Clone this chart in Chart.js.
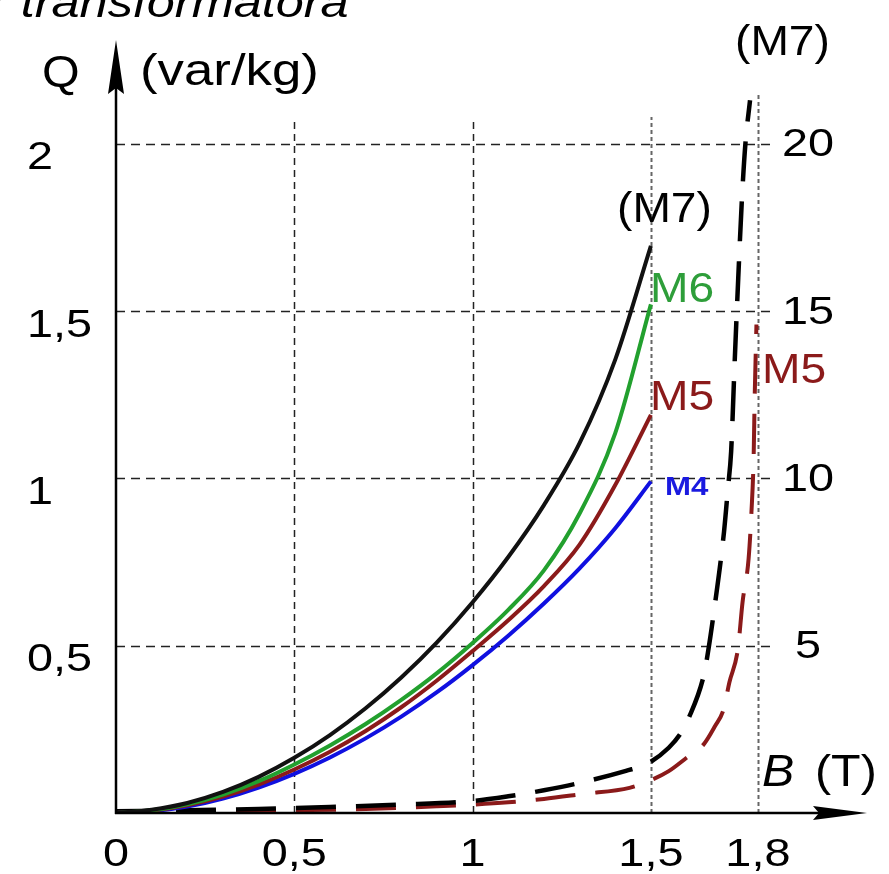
<!DOCTYPE html>
<html>
<head>
<meta charset="utf-8">
<script src="https://cdn.jsdelivr.net/npm/chart.js@4.4.1/dist/chart.umd.min.js"></script>
<style>
  html, body { margin: 0; padding: 0; background: #fff; }
  canvas { display: block; }
</style>
</head>
<body>
<canvas id="chart" width="889" height="874"></canvas>
<script>
// Q(B) curves for transformer sheet grades
const bSolid = [0, 0.1, 0.2, 0.3, 0.4, 0.5, 0.6, 0.7, 0.8, 0.9, 1.0, 1.1, 1.2, 1.3, 1.4, 1.5];
const qM7 = [0, 0.01, 0.03, 0.063, 0.108, 0.165, 0.233, 0.313, 0.405, 0.51, 0.63, 0.765, 0.92, 1.105, 1.355, 1.695];
const qM6 = [0, 0.008, 0.026, 0.055, 0.095, 0.145, 0.202, 0.266, 0.338, 0.418, 0.508, 0.607, 0.725, 0.895, 1.135, 1.52];
const qM5 = [0, 0.007, 0.023, 0.049, 0.085, 0.13, 0.183, 0.245, 0.316, 0.396, 0.484, 0.576, 0.678, 0.802, 0.98, 1.19];
const qM4 = [0, 0.005, 0.019, 0.043, 0.076, 0.117, 0.166, 0.223, 0.288, 0.361, 0.442, 0.53, 0.626, 0.731, 0.851, 0.991];

// dashed curves, right-hand scale (x10)
const bDashM7 = [0, 0.2, 0.4, 0.6, 0.8, 1.0, 1.1, 1.2, 1.3, 1.43, 1.49, 1.55, 1.583, 1.606, 1.648, 1.66, 1.676, 1.705, 1.716, 1.725, 1.735, 1.745, 1.755, 1.765, 1.778];
const qDashM7 = [0.05, 0.08, 0.12, 0.18, 0.25, 0.36, 0.5, 0.68, 0.9, 1.26, 1.47, 1.95, 2.37, 2.84, 4.1, 4.8, 5.96, 8.4, 9.7, 10.8, 13.5, 16, 18.3, 20, 21.3];
const bDashM5 = [0, 0.3, 0.5, 0.7, 0.9, 1.0, 1.1, 1.2, 1.31, 1.44, 1.5, 1.55, 1.6, 1.648, 1.68, 1.704, 1.72, 1.744, 1.757, 1.774, 1.782, 1.788, 1.791, 1.796];
const qDashM5 = [0.03, 0.05, 0.08, 0.12, 0.2, 0.25, 0.32, 0.42, 0.57, 0.75, 0.98, 1.25, 1.65, 2.05, 2.6, 3.1, 3.9, 4.9, 6.3, 7.6, 9.0, 10.6, 12.4, 14.6];

const qTicks = [0.5, 1, 1.5, 2];
const q2Ticks = [5, 10, 15, 20];
const bTicks = [0, 0.5, 1, 1.5, 1.8];

const qMax = 2.31;
const bMax = 2.106;

const FONT = '"Liberation Sans", Arial, sans-serif';

const toPoints = (xs, ys) => xs.map((x, i) => ({ x: x, y: ys[i] }));
const fmt = v => String(v).replace('.', ',');

function text(ctx, s, x, y, font, color, align, sx, baseline) {
    ctx.save();
    ctx.font = font;
    ctx.fillStyle = color;
    ctx.textAlign = align || 'left';
    ctx.textBaseline = baseline || 'alphabetic';
    ctx.translate(x, y);
    ctx.scale(sx || 1, 1);
    ctx.fillText(s, 0, 0);
    ctx.restore();
}

// dashed grid, only as far as the picture draws it
const gridPlugin = {
    id: 'grid',
    beforeDatasetsDraw(chart) {
        const ctx = chart.ctx;
        const x = chart.scales.x, y = chart.scales.y;
        ctx.save();
        ctx.lineWidth = 1.5;
        ctx.strokeStyle = '#222';
        ctx.setLineDash([9, 6]);
        qTicks.forEach(v => {
            const py = Math.round(y.getPixelForValue(v)) + 0.5;
            ctx.beginPath();
            ctx.moveTo(x.getPixelForValue(0), py);
            ctx.lineTo(x.getPixelForValue(1.84), py);
            ctx.stroke();
        });
        bTicks.forEach(v => {
            if (v === 0) return;
            const px = Math.round(x.getPixelForValue(v)) + 0.5;
            const top = v === 1.8 ? 2.15 : 2.08;
            if (v >= 1.5) {
                ctx.strokeStyle = '#666';
                ctx.lineWidth = 2;
                ctx.setLineDash([4, 3]);
            } else {
                ctx.strokeStyle = '#222';
                ctx.lineWidth = 1.5;
                ctx.setLineDash([7, 5]);
            }
            ctx.beginPath();
            ctx.moveTo(px, y.getPixelForValue(0));
            ctx.lineTo(px, y.getPixelForValue(top));
            ctx.stroke();
        });
        ctx.restore();
    },
    afterDatasetsDraw(chart) {
        const ctx = chart.ctx;
        const x = chart.scales.x, y = chart.scales.y, y2 = chart.scales.y2;
        const x0 = x.getPixelForValue(0), y0 = y.getPixelForValue(0);
        const area = chart.chartArea;
        ctx.save();
        ctx.setLineDash([]);
        ctx.strokeStyle = '#000';
        ctx.fillStyle = '#000';
        ctx.lineWidth = 2.5;
        // axes
        ctx.beginPath();
        ctx.moveTo(x0, y0 + 1);
        ctx.lineTo(x0, area.top + 30);
        ctx.moveTo(x0 - 1, y0);
        ctx.lineTo(area.right - 30, y0);
        ctx.stroke();
        // arrow heads
        ctx.beginPath();
        ctx.moveTo(x0, area.top);
        ctx.lineTo(x0 - 8, area.top + 54);
        ctx.lineTo(x0, area.top + 48);
        ctx.lineTo(x0 + 8, area.top + 54);
        ctx.closePath();
        ctx.fill();
        ctx.beginPath();
        ctx.moveTo(area.right, y0);
        ctx.lineTo(area.right - 54, y0 - 7);
        ctx.lineTo(area.right - 48, y0);
        ctx.lineTo(area.right - 54, y0 + 7);
        ctx.closePath();
        ctx.fill();
        ctx.restore();

        const tickFont = '39px ' + FONT;
        qTicks.forEach(v => text(ctx, fmt(v), 27, y.getPixelForValue(v) + 15, tickFont, '#000', 'left', 1.2, 'middle'));
        q2Ticks.forEach(v => text(ctx, String(v), 808, y2.getPixelForValue(v) + 2, tickFont, '#000', 'center', 1.2, 'middle'));
        bTicks.forEach(v => text(ctx, fmt(v), x.getPixelForValue(v), 866, tickFont, '#000', 'center', 1.2));

        const labFont = '44px ' + FONT;
        text(ctx, 'Q', 42, 87, labFont, '#000', 'left', 1.1);
        text(ctx, '(var/kg)', 140, 85, labFont, '#000', 'left', 1.2);
        text(ctx, 'B', 762, 786, 'italic ' + labFont, '#000', 'left', 1.1);
        text(ctx, '(T)', 815, 786, labFont, '#000', 'left', 1.1);
        text(ctx, 'r transformatora', -10, 17, 'italic 42px ' + FONT, '#000', 'left', 1.2);

        const mFont = '42px ' + FONT;
        text(ctx, '(M7)', 735, 55, mFont, '#000', 'left', 1.1);
        text(ctx, '(M7)', 617, 222, mFont, '#000', 'left', 1.1);
        text(ctx, 'M6', 650, 302, mFont, '#2e9e3a', 'left', 1.1);
        text(ctx, 'M5', 650, 410, mFont, '#8b1a1a', 'left', 1.1);
        text(ctx, 'M4', 665, 495, 'bold 26px ' + FONT, '#1a1ae0', 'left', 1.2);
        text(ctx, 'M5', 762, 383, mFont, '#8b1a1a', 'left', 1.1);
    }
};

const solid = (data, color) => ({
    data: data,
    borderColor: color,
    borderWidth: 4,
    pointRadius: 0,
    fill: false,
    cubicInterpolationMode: 'monotone',
    yAxisID: 'y'
});
const dashed = (data, color, width) => ({
    data: data,
    borderColor: color,
    borderWidth: width,
    borderDash: [40, 20],
    pointRadius: 0,
    fill: false,
    cubicInterpolationMode: 'monotone',
    yAxisID: 'y2'
});

new Chart(document.getElementById('chart').getContext('2d'), {
    type: 'scatter',
    data: {
        datasets: [
            solid(toPoints(bSolid, qM7), '#111'),
            solid(toPoints(bSolid, qM6), '#22a02e'),
            solid(toPoints(bSolid, qM5), '#8b1a1a'),
            solid(toPoints(bSolid, qM4), '#1010e0'),
            dashed(toPoints(bDashM7, qDashM7), '#000', 4.5),
            dashed(toPoints(bDashM5, qDashM5), '#8b1a1a', 4)
        ]
    },
    options: {
        responsive: false,
        animation: false,
        devicePixelRatio: 1,
        showLine: true,
        layout: { padding: { left: 116, right: 22, top: 40, bottom: 61 } },
        scales: {
            x: { type: 'linear', min: 0, max: bMax, display: false },
            y: { type: 'linear', min: 0, max: qMax, display: false },
            y2: { type: 'linear', min: 0, max: qMax * 10, display: false }
        },
        plugins: {
            legend: { display: false },
            tooltip: { enabled: false }
        }
    },
    plugins: [gridPlugin]
});
</script>
</body>
</html>
